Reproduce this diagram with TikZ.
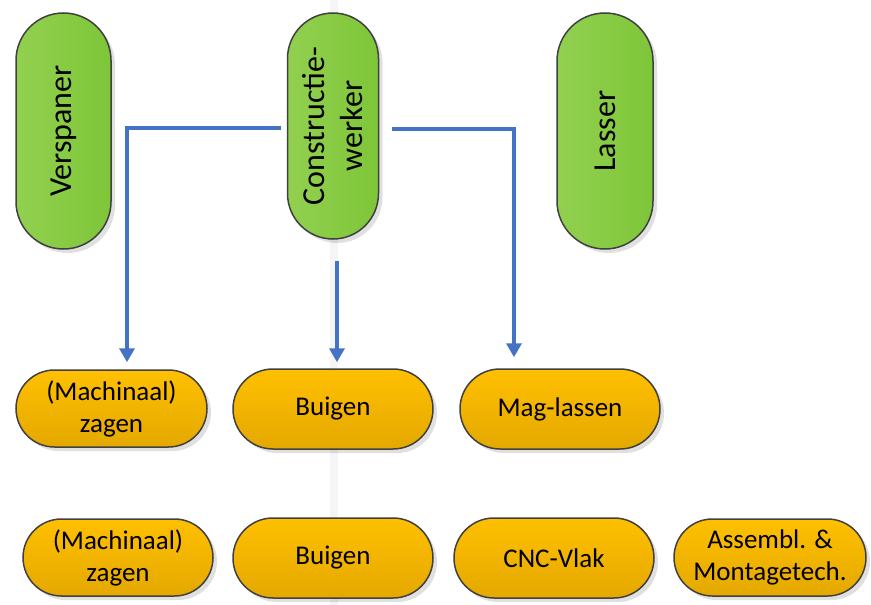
\documentclass[tikz,border=0pt]{standalone}
\usepackage{fontspec}
\setmainfont{Carlito}
\usetikzlibrary{shapes.misc,arrows.meta,calc,shadows}
\definecolor{gLight}{RGB}{146,208,80}
\definecolor{gDark}{RGB}{126,198,56}
\definecolor{oTop}{RGB}{255,192,0}
\definecolor{oBot}{RGB}{228,168,0}
\definecolor{edgeC}{RGB}{64,64,64}
\definecolor{connC}{RGB}{68,114,196}
\tikzset{
  role/.style={rounded rectangle, rotate=90, draw=edgeC, line width=1.5pt,
    left color=gLight, right color=gDark, inner sep=0pt,
    font=\fontsize{32}{38}\selectfont, align=center,
    drop shadow={shadow xshift=4pt, shadow yshift=-4pt, opacity=0.12, fill=black}},
  task/.style={rounded rectangle, draw=edgeC, line width=1.5pt,
    top color=oTop, bottom color=oBot, inner sep=0pt,
    font=\fontsize{27}{32}\selectfont, align=center,
    drop shadow={shadow xshift=4pt, shadow yshift=-4pt, opacity=0.12, fill=black}},
  conn/.style={draw=connC, line width=4pt, -{Triangle[width=15pt,length=14pt]}}
}
\begin{document}
\begin{tikzpicture}[x=1pt,y=-1pt]
\useasboundingbox (0,0) rectangle (871,605);
\fill[gray!8] (330,0) rectangle (338,605);
% roles (green, vertical)
\node[role, minimum width=236pt, minimum height=95pt] (vs) at (63.5,131) {Verspaner};
\node[role, minimum width=226pt, minimum height=91pt] (cw) at (333,126) {Constructie-\\werker};
\node[role, minimum width=236pt, minimum height=96pt] (ls) at (605,131) {Lasser};
% tasks row 1
\node[task, minimum width=191pt, minimum height=77pt] (z1) at (111.5,408.5) {(Machinaal)\\zagen};
\node[task, minimum width=200pt, minimum height=80pt] (b1) at (333,409) {Buigen};
\node[task, minimum width=200pt, minimum height=80pt] (ml) at (560,409) {Mag-lassen};
% tasks row 2
\node[task, minimum width=190pt, minimum height=77pt] (z2) at (118,557.5) {(Machinaal)\\zagen};
\node[task, minimum width=200pt, minimum height=80pt] (b2) at (333,558) {Buigen};
\node[task, minimum width=200pt, minimum height=80pt] (cnc) at (554,558) {CNC-Vlak};
\node[task, minimum width=192pt, minimum height=77pt] (am) at (770,557.5) {Assembl. \&\\Montagetech.};
% connectors
\draw[conn, shorten <=6pt, shorten >=7pt] ($(cw.north)+(0,2)$) -| ($(z1.north)+(15.5,0)$);
\draw[conn, shorten <=21pt, shorten >=6pt] ($(cw.west)+(4,0)$) -- ($(b1.north)+(4,0)$);
\draw[conn, shorten <=13pt, shorten >=11pt] ($(cw.south)+(0,3)$) -| ($(ml.north)+(-46,0)$);
\end{tikzpicture}
\end{document}
